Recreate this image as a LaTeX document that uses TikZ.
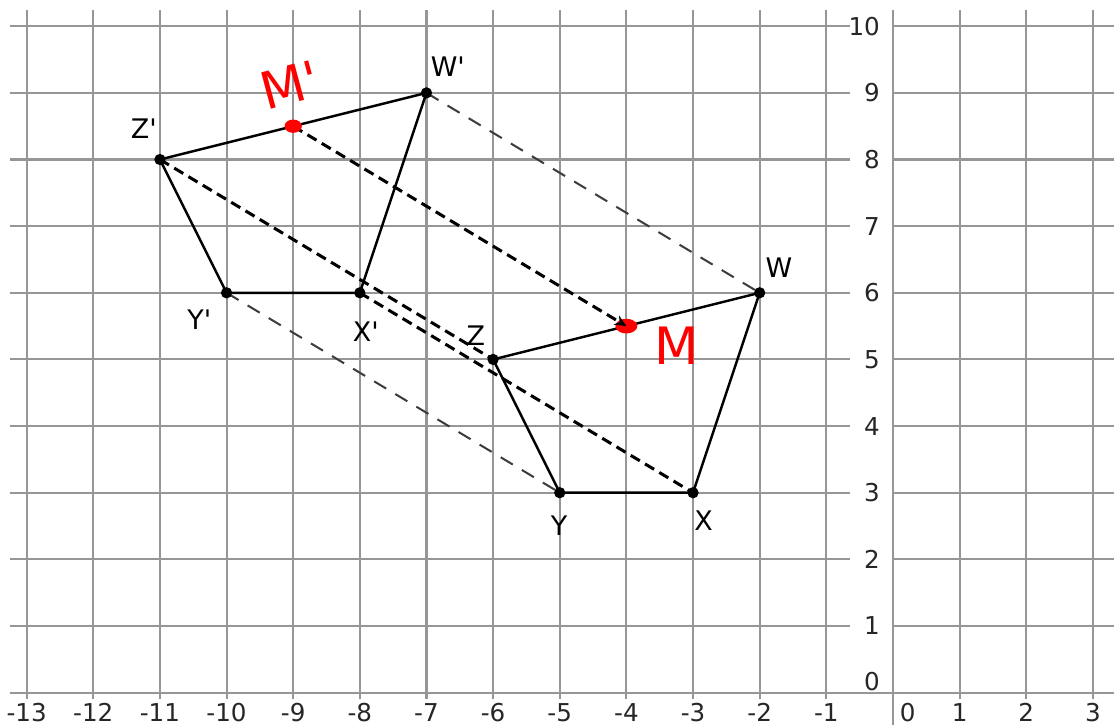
\documentclass[tikz,border=0pt]{standalone}
\usepackage{fontspec}
\setmainfont{DejaVu Sans}[Ligatures=TeXOff]
\usetikzlibrary{arrows.meta}
\definecolor{gridc}{RGB}{150,150,150}
\definecolor{dashgray}{RGB}{60,60,60}
\definecolor{handred}{RGB}{255,0,0}
\begin{document}
\begin{tikzpicture}[x=1cm,y=1cm,
  gridline/.style={draw=gridc,line width=0.9pt},
  edge/.style={draw=black,line width=1.05pt,line join=round},
  thindash/.style={draw=dashgray,line width=0.85pt,dash pattern=on 6pt off 4.5pt},
  bolddash/.style={draw=black,line width=1.3pt,dash pattern=on 4.5pt off 2.6pt},
  dot/.style={fill=black},
  ptlabel/.style={font=\fontsize{11.5}{12}\selectfont,inner sep=0pt},
  axlabel/.style={font=\fontsize{10.5}{11}\selectfont,inner sep=0pt,text=black!85},
  handlabel/.style={text=handred,font=\fontsize{22}{22}\selectfont,inner sep=0pt}]
\useasboundingbox (-13.40,-0.49) rectangle (3.317,10.394);
\fill[white] (-13.40,-0.49) rectangle (3.317,10.394);
% grid
\foreach \y in {0,...,10} \draw[gridline] (-13.25,\y) -- (3.317,\y);
\foreach \x in {-13,...,-1,1,2,3} \draw[gridline] (\x,-0.1) -- (\x,10.24);
\draw[gridline] (0,-0.49) -- (0,10.24);
% y labels
\foreach \y in {1,...,10} {
  \fill[white] (-0.64,\y-0.16) rectangle (-0.02,\y+0.16);
  \node[axlabel,anchor=east] (yl\y) at (-0.19,\y) {\y};
}
\node[axlabel,anchor=east] (yl0) at (-0.19,0.17) {0};
% x labels
\foreach \x [count=\i] in {-13,...,-1,1,2,3} \node[axlabel] (xl\i) at (\x,-0.30) {\x};
\node[axlabel] (xl0) at (0.22,-0.30) {0};
% points
\coordinate (Zp) at (-11,8);
\coordinate (Wp) at (-7,9);
\coordinate (Xp) at (-8,6);
\coordinate (Yp) at (-10,6);
\coordinate (Z) at (-6,5);
\coordinate (W) at (-2,6);
\coordinate (X) at (-3,3);
\coordinate (Y) at (-5,3);
\coordinate (Mp) at (-9,8.5);
\coordinate (M) at (-4,5.5);
% polygons
\draw[edge] (Zp) -- (Wp) -- (Xp) -- (Yp) -- cycle;
\draw[edge] (Z) -- (W) -- (X) -- (Y) -- cycle;
% translation lines
\draw[thindash] (Wp) -- (W);
\draw[thindash] (Yp) -- (Y);
\draw[bolddash] (Zp) -- (Z);
\draw[bolddash] (Xp) -- (X);
% red blob at M under arrow
\fill[handred] (M) ellipse (0.165 and 0.11);
\draw[bolddash,-{Stealth[length=5pt,width=4.5pt]}] (Mp) -- (M);
\fill[handred] (Mp) ellipse (0.13 and 0.1);
% dots
\foreach \p in {Zp,Wp,Xp,Yp,Z,W,X,Y} \fill[dot] (\p) circle (0.085);
% labels
\node[ptlabel] (lZp) at (-11.24,8.47) {Z'};
\node[ptlabel] (lWp) at (-6.68,9.40) {W'};
\node[ptlabel] (lYp) at (-10.41,5.59) {Y'};
\node[ptlabel] (lXp) at (-7.91,5.42) {X'};
\node[ptlabel] (lZ) at (-6.26,5.36) {Z};
\node[ptlabel] (lW) at (-1.71,6.37) {W};
\node[ptlabel] (lY) at (-5.01,2.51) {Y};
\node[ptlabel] (lX) at (-2.84,2.58) {X};
\node[handlabel,rotate=15] (lMp) at (-9.05,9.12) {M'};
\node[handlabel] (lM) at (-3.24,5.2) {M};
\end{tikzpicture}
\end{document}
